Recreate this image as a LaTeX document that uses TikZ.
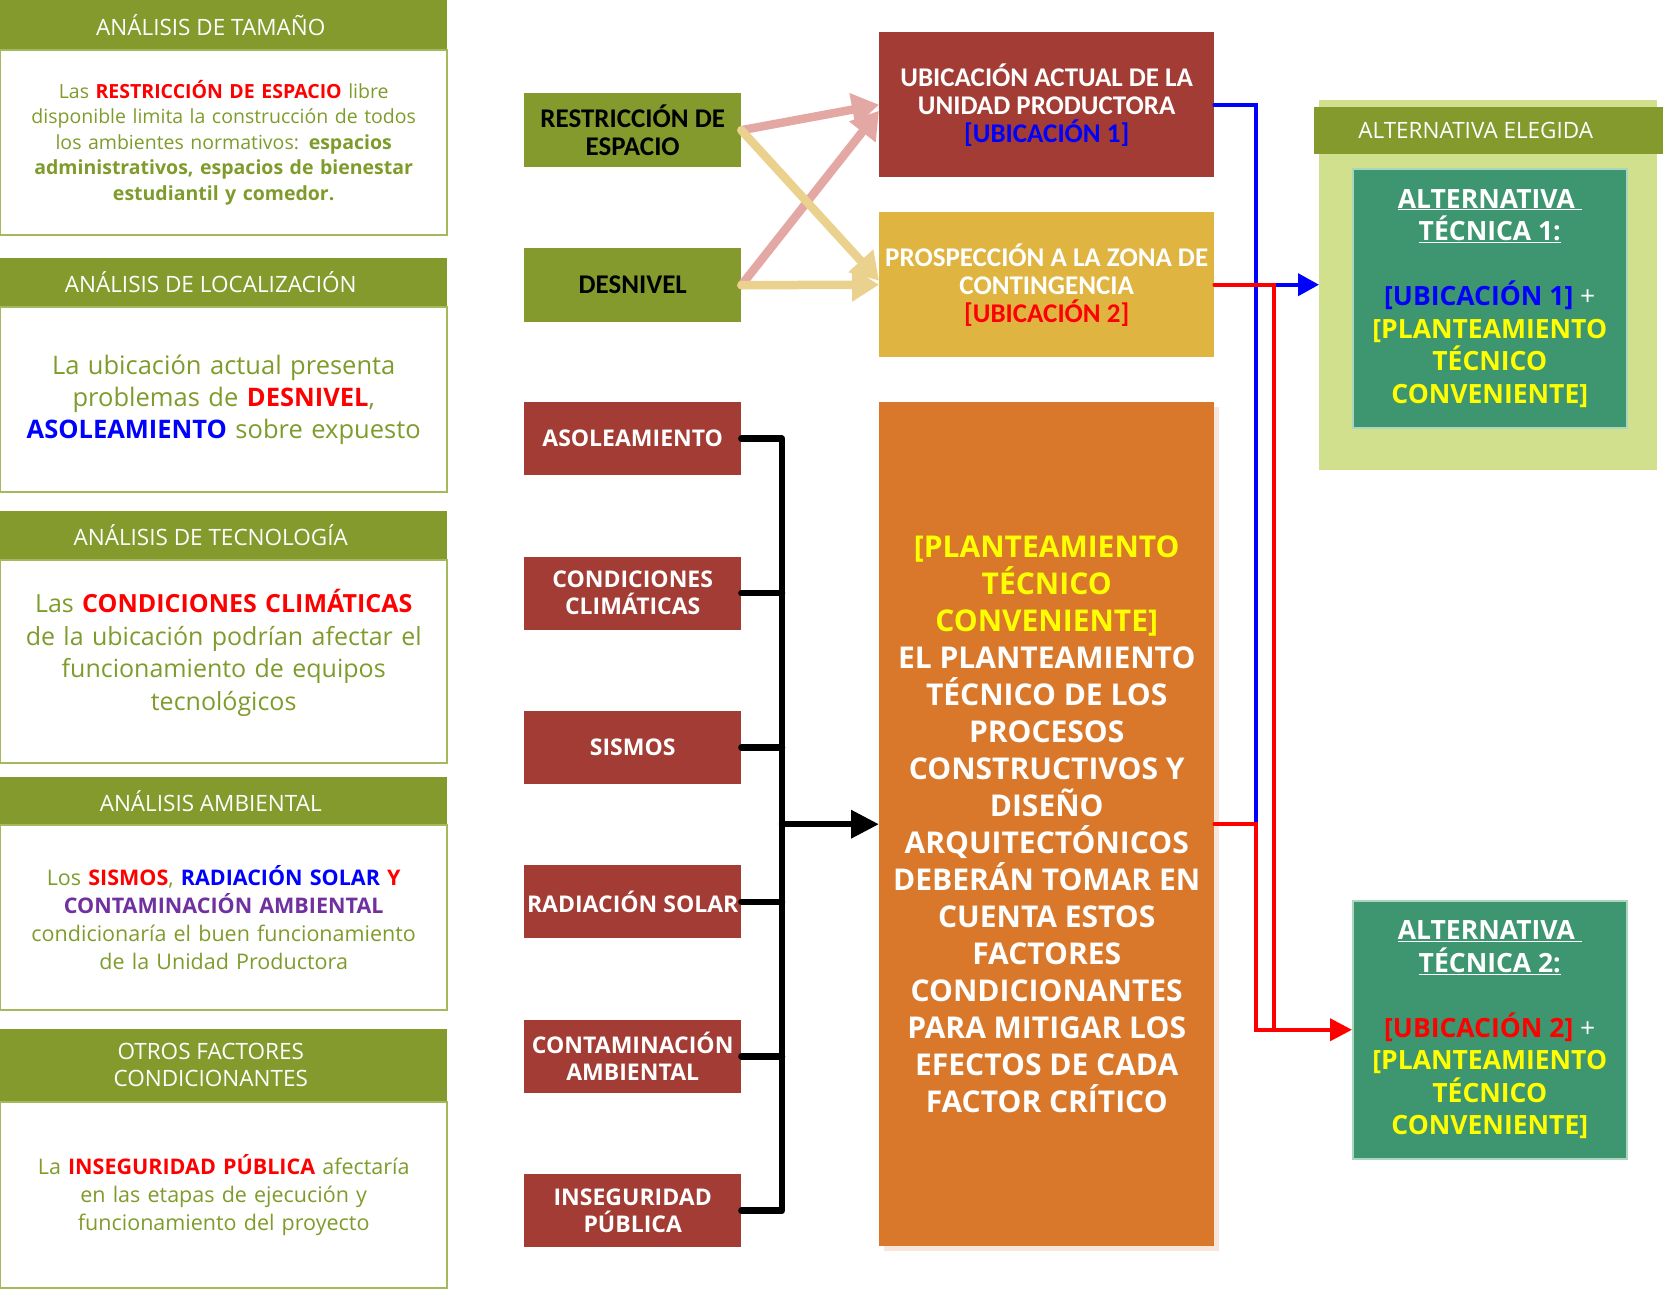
\documentclass[tikz,border=0pt]{standalone}
\usepackage{fontspec}
\setmainfont{Open Sans}
\newfontfamily\condfont{Carlito}
\usepackage{xcolor}
\usetikzlibrary{positioning,arrows.meta,shadows}

\definecolor{olivebar}{HTML}{849A2D}
\definecolor{panelline}{HTML}{A4B85C}
\definecolor{txtgreen}{HTML}{7F9B2B}
\definecolor{factorred}{HTML}{A33C34}
\definecolor{golden}{HTML}{E0B441}
\definecolor{planorange}{HTML}{D9782B}
\definecolor{shadowpeach}{HTML}{F9E6DA}
\definecolor{altteal}{HTML}{3D9670}
\definecolor{altline}{HTML}{A9D6BE}
\definecolor{lightgreen}{HTML}{D0E08D}
\definecolor{pinkarrow}{HTML}{E3A8A3}
\definecolor{yellowarrow}{HTML}{EBD18E}
\definecolor{hiyellow}{HTML}{FFFF00}
\definecolor{hipurple}{HTML}{7030A0}

% header titles sit a little left of the bar's centre
\newcommand{\hdrline}[1]{#1\hspace*{26pt}}

\begin{document}
\begin{tikzpicture}[x=1pt, y=-1pt, >=Latex, node distance=81pt,
  hdr/.style={fill=olivebar, text=white, minimum width=447pt, inner sep=0pt, align=center, font=\fontsize{22.5}{27}\selectfont},
  panel/.style={draw=panelline, line width=1.5pt, minimum width=447pt, text width=440pt, inner xsep=0pt, align=center, text=txtgreen},
  cause/.style={fill=olivebar, minimum width=217pt, minimum height=74pt, inner sep=0pt, align=center, font=\condfont\bfseries\fontsize{27}{28}\selectfont},
  sitebox/.style={minimum width=335pt, minimum height=145pt, inner sep=0pt, align=center, text=white, font=\condfont\bfseries\fontsize{27}{28}\selectfont},
  factor/.style={fill=factorred, minimum width=217pt, minimum height=73pt, inner sep=0pt, align=center, text=white, font=\bfseries\fontsize{23}{27}\selectfont},
  altbox/.style={fill=altteal, draw=altline, line width=1.5pt, minimum width=274pt, minimum height=258pt, inner sep=0pt, align=center, text=white, font=\bfseries\fontsize{26.5}{32.5}\selectfont},
  fatarrow/.style={line width=8.5pt, line cap=round, -{Triangle[length=27pt,width=32pt]}},
  busline/.style={line width=6.5pt, line cap=round, line join=round},
  blueline/.style={draw=blue, line width=4pt, line cap=round},
  redline/.style={draw=red, line width=4pt, line cap=round}]
\useasboundingbox (0,0) rectangle (1664,1288);

% left column: analysis panels
\node[hdr, minimum height=49pt, anchor=north west] (tamH) at (0,0) {\hdrline{ANÁLISIS DE TAMAÑO}};
\node[panel, minimum height=185pt, below=0pt of tamH, font=\fontsize{19.5}{25.5}\selectfont] (tamB)
  {Las {\bfseries\color{red}RESTRICCIÓN DE ESPACIO} libre\\
   disponible limita la construcción de todos\\
   los ambientes normativos: \textbf{espacios}\\
   \textbf{administrativos, espacios de bienestar}\\
   \textbf{estudiantil y comedor.}};

\node[hdr, minimum height=48pt, anchor=north west] (locH) at (0,258) {\hdrline{ANÁLISIS DE LOCALIZACIÓN}};
\node[panel, minimum height=185pt, below=0pt of locH, font=\fontsize{25.5}{32}\selectfont] (locB)
  {La ubicación actual presenta\\
   problemas de {\bfseries\color{red}DESNIVEL},\\
   {\bfseries\color{blue}ASOLEAMIENTO} sobre expuesto};

\node[hdr, minimum height=48pt, anchor=north west] (tecH) at (0,511) {\hdrline{ANÁLISIS DE TECNOLOGÍA}};
\node[panel, minimum height=203pt, below=0pt of tecH, font=\fontsize{25}{32.5}\selectfont] (tecB)
  {\raisebox{2.5pt}[0pt][0pt]{\parbox{440pt}{\centering
   Las {\bfseries\color{red}CONDICIONES CLIMÁTICAS}\\
   de la ubicación podrían afectar el\\
   funcionamiento de equipos\\
   tecnológicos}}};

\node[hdr, minimum height=47pt, anchor=north west] (ambH) at (0,777) {\hdrline{ANÁLISIS AMBIENTAL}};
\node[panel, minimum height=185pt, below=0pt of ambH, font=\fontsize{21.5}{28}\selectfont] (ambB)
  {Los {\bfseries\color{red}SISMOS}, {\bfseries\color{blue}RADIACIÓN SOLAR} {\bfseries\color{red}Y}\\
   {\bfseries\color{hipurple}CONTAMINACIÓN AMBIENTAL}\\
   condicionaría el buen funcionamiento\\
   de la Unidad Productora};

\node[hdr, minimum height=72pt, anchor=north west] (otrH) at (0,1029) {\hdrline{OTROS FACTORES}\\\hdrline{CONDICIONANTES}};
\node[panel, minimum height=186pt, below=0pt of otrH, font=\fontsize{21.5}{28}\selectfont] (otrB)
  {La {\bfseries\color{red}INSEGURIDAD PÚBLICA} afectaría\\
   en las etapas de ejecución y\\
   funcionamiento del proyecto};

% causes and locations
\node[cause, anchor=north west] (restr) at (524,93) {RESTRICCIÓN DE\\ESPACIO};
\node[cause, anchor=north west] (desn) at (524,248) {DESNIVEL};
\node[sitebox, fill=factorred, anchor=north west] (ubic) at (879,32)
  {UBICACIÓN ACTUAL DE LA\\UNIDAD PRODUCTORA\\{\color{blue}[UBICACIÓN 1]}};
\node[sitebox, fill=golden, anchor=north west] (prosp) at (879,212)
  {PROSPECCIÓN A LA ZONA DE\\CONTINGENCIA\\{\color{red}[UBICACIÓN 2]}};

\draw[fatarrow, draw=pinkarrow] (restr.east) -- (ubic.west);
\draw[fatarrow, draw=pinkarrow] (desn.east) -- ([yshift=-6pt]ubic.west);
\draw[fatarrow, draw=yellowarrow] (restr.east) -- ([yshift=4pt]prosp.west);
\draw[fatarrow, draw=yellowarrow] (desn.east) -- (prosp.west);

% critical factors
\node[factor, anchor=north west] (aso) at (524,402) {ASOLEAMIENTO};
\node[factor, below=of aso] (clim) {CONDICIONES\\CLIMÁTICAS};
\node[factor, below=of clim] (sis) {SISMOS};
\node[factor, below=of sis] (rad) {RADIACIÓN SOLAR};
\node[factor, below=of rad] (cont) {CONTAMINACIÓN\\AMBIENTAL};
\node[factor, below=of cont] (inse) {INSEGURIDAD\\PÚBLICA};

\node[fill=planorange, minimum width=335pt, minimum height=844pt, inner sep=0pt, anchor=north west,
  drop shadow={fill=shadowpeach, opacity=1, shadow xshift=5pt, shadow yshift=-5pt},
  align=center, text=white, font=\bfseries\fontsize{30}{37}\selectfont] (plan) at (879,402)
  {{\color{hiyellow}[PLANTEAMIENTO}\\{\color{hiyellow}TÉCNICO}\\{\color{hiyellow}CONVENIENTE]}\\
   EL PLANTEAMIENTO\\TÉCNICO DE LOS\\PROCESOS\\CONSTRUCTIVOS Y\\DISEÑO\\ARQUITECTÓNICOS\\
   DEBERÁN TOMAR EN\\CUENTA ESTOS\\FACTORES\\CONDICIONANTES\\PARA MITIGAR LOS\\
   EFECTOS DE CADA\\FACTOR CRÍTICO};

\coordinate (busx) at (782,0);
\draw[busline] (aso.east) -- (aso.east -| busx) -- (inse.east -| busx) -- (inse.east);
\draw[busline] (clim.east) -- (clim.east -| busx);
\draw[busline] (sis.east) -- (sis.east -| busx);
\draw[busline] (rad.east) -- (rad.east -| busx);
\draw[busline] (cont.east) -- (cont.east -| busx);
\draw[busline, -{Triangle[length=28pt,width=27pt]}] (plan.west -| busx) -- (plan.west);

% chosen alternative
\node[fill=lightgreen, minimum width=338pt, minimum height=370pt, inner sep=0pt, anchor=north west] (elegBg) at (1319,100) {};
\node[hdr, minimum width=349pt, minimum height=47pt, anchor=north west] (elegH) at (1314,107) {\hdrline{ALTERNATIVA ELEGIDA}};
\node[altbox, minimum height=259pt, anchor=north west] (alt1) at (1352,168)
  {\underline{ALTERNATIVA\ }\\\underline{TÉCNICA 1:}\\[32.5pt]
   {\color{blue}[UBICACIÓN 1]} {\mdseries +}\\
   {\color{hiyellow}[PLANTEAMIENTO}\\{\color{hiyellow}TÉCNICO}\\{\color{hiyellow}CONVENIENTE]}};
\node[altbox, anchor=north west] (alt2) at (1352,900)
  {\underline{ALTERNATIVA\ }\\\underline{TÉCNICA 2:}\\[32.5pt]
   {\color{red}[UBICACIÓN 2]} {\mdseries +}\\
   {\color{hiyellow}[PLANTEAMIENTO}\\{\color{hiyellow}TÉCNICO}\\{\color{hiyellow}CONVENIENTE]}};

\coordinate (bluex) at (1256,0);
\coordinate (redx) at (1274,0);
\draw[blueline] (ubic.east) -- (ubic.east -| bluex) -- (plan.east -| bluex);
\draw[blueline, -{Triangle[length=21pt,width=22pt]}] (prosp.east -| bluex) -- (prosp.east -| elegBg.west);
\draw[redline] (prosp.east) -- (prosp.east -| redx) -- (alt2.west -| redx);
\draw[redline, -{Triangle[length=22pt,width=22pt]}] (plan.east) -- (plan.east -| bluex) -- (alt2.west -| bluex) -- (alt2.west);
\end{tikzpicture}
\end{document}
